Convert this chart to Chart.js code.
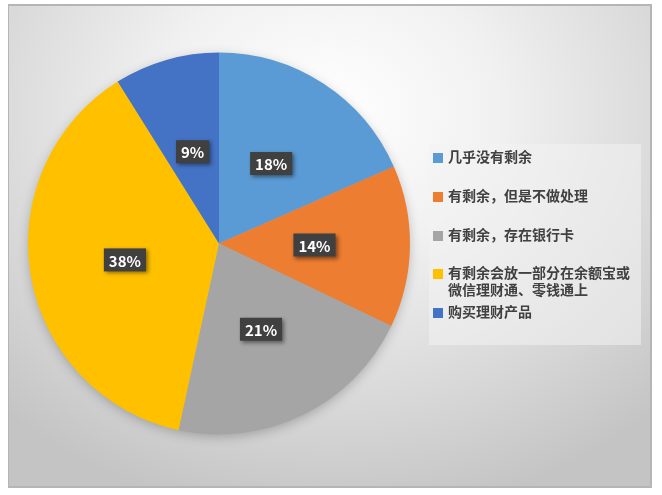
<!DOCTYPE html>
<html lang="zh-CN">
<head>
<meta charset="UTF-8">
<title>剩余资金处理方式</title>
<script src="https://cdn.jsdelivr.net/npm/chart.js"></script>
<style>
  body { margin: 0; width: 662px; height: 495px; background: #fff; font-family: "Noto Sans CJK SC", sans-serif; }
  .frame {
    position: absolute; left: 8px; top: 4px; width: 641px; height: 480px;
    border: 1px solid #b5b5b5; border-top-width: 2px; border-bottom-width: 2px; border-right-width: 2px;
    background: radial-gradient(ellipse 75% 85% at 50% 22%, #ffffff 0%, #f1f1f1 35%, #d6d6d6 75%, #c4c4c4 100%);
    overflow: hidden;
  }
  canvas { position: absolute; left: 0; top: 0; }
  .legend {
    position: absolute; left: 420px; top: 138px; width: 212px; height: 201px;
    background: rgba(242,242,242,0.55);
  }
  .item { position: absolute; left: 4px; display: flex; align-items: flex-start; }
  .sw { width: 10px; height: 10px; margin-top: 5px; margin-right: 5px; flex: none; }
  .txt { font-size: 14px; font-weight: bold; color: #404040; line-height: 17px; width: 190px; }
</style>
</head>
<body>
<div class="frame">
  <canvas id="pie" width="641" height="480"></canvas>
  <div class="legend" id="legend"></div>
</div>
<script>
const categorias = ['几乎没有剩余', '有剩余，但是不做处理', '有剩余，存在银行卡', '有剩余会放一部分在余额宝或微信理财通、零钱通上', '购买理财产品'];
const valores = [18.4, 13.7, 21.3, 37.7, 8.9];
const cores = ['#5B9BD5', '#ED7D31', '#A5A5A5', '#FFC000', '#4472C4'];
const legendaTopo = [4, 43, 82, 120, 159];

// legenda em HTML
const leg = document.getElementById('legend');
categorias.forEach((c, i) => {
  const d = document.createElement('div');
  d.className = 'item';
  d.style.top = legendaTopo[i] + 'px';
  d.innerHTML = '<span class="sw" style="background:' + cores[i] + '"></span><span class="txt">' + c + '</span>';
  leg.appendChild(d);
});

const total = valores.reduce((a, b) => a + b, 0);

// rótulos de porcentagem em caixas escuras
const rotulos = {
  id: 'rotulos',
  afterDatasetsDraw(chart) {
    const ctx = chart.ctx;
    const meta = chart.getDatasetMeta(0);
    ctx.save();
    ctx.font = 'bold 15px "Noto Sans CJK SC", sans-serif';
    ctx.textAlign = 'center';
    ctx.textBaseline = 'middle';
    meta.data.forEach((arc, i) => {
      const p = arc.getProps(['x', 'y', 'startAngle', 'endAngle', 'outerRadius'], true);
      const meio = (p.startAngle + p.endAngle) / 2;
      const r = p.outerRadius * 0.5;
      const x = p.x + Math.cos(meio) * r;
      const y = p.y + Math.sin(meio) * r;
      const txt = Math.round(valores[i] / total * 100) + '%';
      const w = ctx.measureText(txt).width + 10;
      const h = 23;
      ctx.shadowColor = 'rgba(0,0,0,0.45)';
      ctx.shadowBlur = 4;
      ctx.shadowOffsetX = 2;
      ctx.shadowOffsetY = 2;
      ctx.fillStyle = '#404040';
      ctx.fillRect(x - w / 2, y - h / 2, w, h);
      ctx.shadowColor = 'transparent';
      ctx.fillStyle = '#ffffff';
      ctx.fillText(txt, x, y + 1);
    });
    ctx.restore();
  }
};

// sombra suave da pizza
const sombra = {
  id: 'sombra',
  beforeDatasetsDraw(chart) {
    const ctx = chart.ctx;
    const arc = chart.getDatasetMeta(0).data[0];
    ctx.save();
    ctx.shadowColor = 'rgba(0,0,0,0.25)';
    ctx.shadowBlur = 12;
    ctx.shadowOffsetY = 3;
    ctx.fillStyle = '#aaaaaa';
    ctx.beginPath();
    ctx.arc(arc.x, arc.y, arc.outerRadius - 1, 0, Math.PI * 2);
    ctx.fill();
    ctx.restore();
  }
};

new Chart(document.getElementById('pie'), {
  type: 'pie',
  data: {
    labels: categorias,
    datasets: [{
      data: valores,
      backgroundColor: cores,
      borderWidth: 0
    }]
  },
  options: {
    responsive: false,
    animation: false,
    layout: { padding: { left: 19, right: 240, top: 46, bottom: 51 } },
    plugins: {
      legend: { display: false },
      tooltip: { enabled: false }
    }
  },
  plugins: [sombra, rotulos]
});
</script>
</body>
</html>
